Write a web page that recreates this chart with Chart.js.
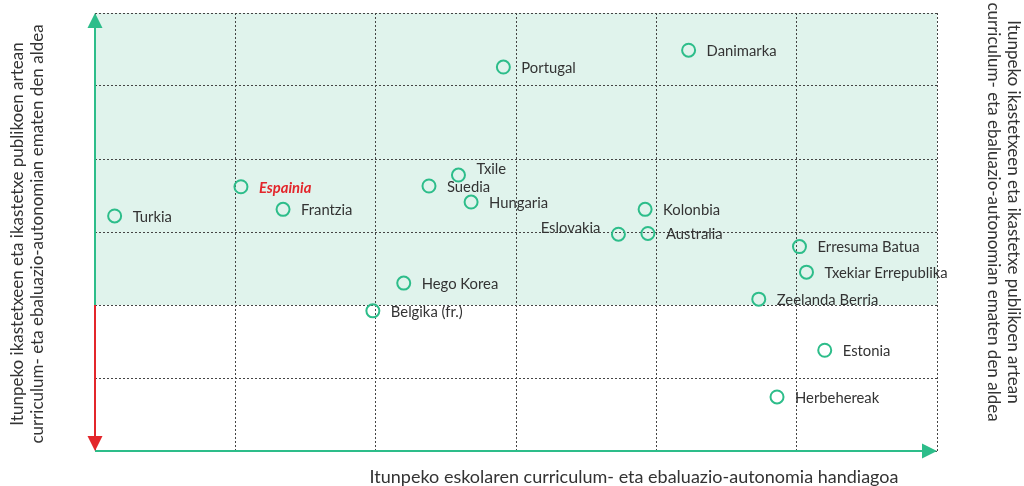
<!DOCTYPE html>
<html lang="eu">
<head>
  <meta charset="UTF-8" />
  <title>Curriculum- eta ebaluazio-autonomia</title>
  <script src="https://cdn.jsdelivr.net/npm/chart.js"></script>
  <style>
    html, body { margin: 0; padding: 0; background: #fff; }
    .chart-wrapper { position: relative; width: 1024px; height: 486px; }
  </style>
</head>
<body>

<div class="chart-wrapper">
  <canvas id="autonomyChart"></canvas>
</div>

<script>
  // herrialdeak eta balioak (x: autonomia, y: aldea)
  const countries = [
    "Turkia", "Espainia", "Frantzia", "Suedia", "Txile", "Hungaria",
    "Portugal", "Danimarka", "Kolonbia", "Eslovakia", "Australia",
    "Erresuma Batua", "Txekiar Errepublika", "Zeelanda Berria",
    "Estonia", "Herbehereak", "Hego Korea", "Belgika (fr.)"
  ];
  const autonomyX = [
    0.14, 1.04, 1.34, 2.38, 2.59, 2.68,
    2.91, 4.23, 3.92, 3.73, 3.94,
    5.02, 5.07, 4.73,
    5.20, 4.86, 2.20, 1.98
  ];
  const gapY = [
    1.22, 1.62, 1.31, 1.63, 1.78, 1.41,
    3.26, 3.49, 1.31, 0.97, 0.98,
    0.80, 0.45, 0.08,
    -0.62, -1.26, 0.30, -0.08
  ];
  const xTicks = [0, 1, 2, 3, 4, 5, 6];
  const yTicks = [-2, -1, 0, 1, 2, 3, 4];

  const xTitle = "Itunpeko eskolaren curriculum- eta ebaluazio-autonomia handiagoa";
  const yTitle = [
    "Itunpeko ikastetxeen eta ikastetxe publikoen artean",
    "curriculum- eta ebaluazio-autonomian ematen den aldea"
  ];

  const GREEN = "#2dbd8a";
  const RED = "#e3262b";
  const FONT = "Lato, 'Noto Sans', sans-serif";

  // etiketa bereziak
  const highlight = "Espainia";
  const labelAbove = ["Txile"];
  const labelLeft = ["Eslovakia"];

  const backdropPlugin = {
    id: "backdrop",
    beforeDraw(chart) {
      const { ctx, chartArea: a, scales } = chart;
      const yTop = scales.y.getPixelForValue(4);
      const yZero = scales.y.getPixelForValue(0);
      ctx.save();
      ctx.fillStyle = "#e0f3ec";
      ctx.fillRect(a.left, yTop, a.right - a.left, yZero - yTop);
      ctx.restore();
    }
  };

  function arrow(ctx, x, y, dir, color) {
    const s = 7.5, h = 15;
    ctx.fillStyle = color;
    ctx.beginPath();
    if (dir === "up") { ctx.moveTo(x, y); ctx.lineTo(x - s, y + h); ctx.lineTo(x + s, y + h); }
    if (dir === "down") { ctx.moveTo(x, y); ctx.lineTo(x - s, y - h); ctx.lineTo(x + s, y - h); }
    if (dir === "right") { ctx.moveTo(x, y); ctx.lineTo(x - h, y - s); ctx.lineTo(x - h, y + s); }
    ctx.closePath();
    ctx.fill();
  }

  const overlayPlugin = {
    id: "overlay",
    afterDatasetsDraw(chart) {
      const { ctx, chartArea: a, scales } = chart;
      const yZero = scales.y.getPixelForValue(0);
      ctx.save();

      // ardatzak
      ctx.lineWidth = 2;
      ctx.strokeStyle = GREEN;
      ctx.beginPath();
      ctx.moveTo(a.left, yZero); ctx.lineTo(a.left, a.top + 10);
      ctx.moveTo(a.left, a.bottom); ctx.lineTo(a.right - 10, a.bottom);
      ctx.stroke();
      ctx.strokeStyle = RED;
      ctx.beginPath();
      ctx.moveTo(a.left, yZero); ctx.lineTo(a.left, a.bottom - 10);
      ctx.stroke();
      arrow(ctx, a.left, a.top, "up", GREEN);
      arrow(ctx, a.left, a.bottom, "down", RED);
      arrow(ctx, a.right, a.bottom, "right", GREEN);

      // herrialdeen etiketak
      const meta = chart.getDatasetMeta(0);
      ctx.textBaseline = "middle";
      meta.data.forEach((pt, i) => {
        const name = countries[i];
        if (name === highlight) {
          ctx.font = "italic bold 14.8px " + FONT;
          ctx.fillStyle = RED;
        } else {
          ctx.font = "14.8px " + FONT;
          ctx.fillStyle = "#333";
        }
        if (labelLeft.includes(name)) {
          ctx.textAlign = "right";
          ctx.fillText(name, pt.x - 18, pt.y - 6);
        } else if (labelAbove.includes(name)) {
          ctx.textAlign = "left";
          ctx.fillText(name, pt.x + 18, pt.y - 6);
        } else {
          ctx.textAlign = "left";
          ctx.fillText(name, pt.x + 18, pt.y + 1);
        }
      });

      // izenburuak
      ctx.fillStyle = "#333";
      ctx.font = "18px " + FONT;
      ctx.textAlign = "center";
      ctx.textBaseline = "alphabetic";
      ctx.fillText(xTitle, 634, a.bottom + 32);

      ctx.font = "17px " + FONT;
      ctx.save();
      ctx.translate(23, 234);
      ctx.rotate(-Math.PI / 2);
      ctx.fillText(yTitle[0], 0, 0);
      ctx.fillText(yTitle[1], 0, 20);
      ctx.restore();

      ctx.save();
      ctx.translate(1008, 212);
      ctx.rotate(Math.PI / 2);
      ctx.fillText(yTitle[0], 0, 0);
      ctx.fillText(yTitle[1], 0, 20);
      ctx.restore();

      ctx.restore();
    }
  };

  const gridStyle = {
    color: "#444",
    lineWidth: 1,
    drawTicks: false
  };

  new Chart(document.getElementById("autonomyChart"), {
    type: "scatter",
    data: {
      datasets: [{
        data: autonomyX.map((x, i) => ({ x, y: gapY[i] })),
        borderColor: GREEN,
        backgroundColor: "rgba(0,0,0,0)",
        borderWidth: 2,
        pointRadius: 6.5,
        pointHoverRadius: 6.5
      }]
    },
    options: {
      responsive: true,
      maintainAspectRatio: false,
      animation: false,
      events: [],
      layout: { padding: { left: 95, right: 87, top: 13, bottom: 35 } },
      plugins: { legend: { display: false }, tooltip: { enabled: false } },
      scales: {
        x: {
          type: "linear", min: 0, max: 6,
          afterBuildTicks: s => { s.ticks = xTicks.map(v => ({ value: v })); },
          ticks: { display: false },
          border: { display: false, dash: [2, 2] },
          grid: gridStyle
        },
        y: {
          type: "linear", min: -2, max: 4,
          afterBuildTicks: s => { s.ticks = yTicks.map(v => ({ value: v })); },
          ticks: { display: false },
          border: { display: false, dash: [2, 2] },
          grid: gridStyle
        }
      }
    },
    plugins: [backdropPlugin, overlayPlugin]
  });
</script>
</body>
</html>
